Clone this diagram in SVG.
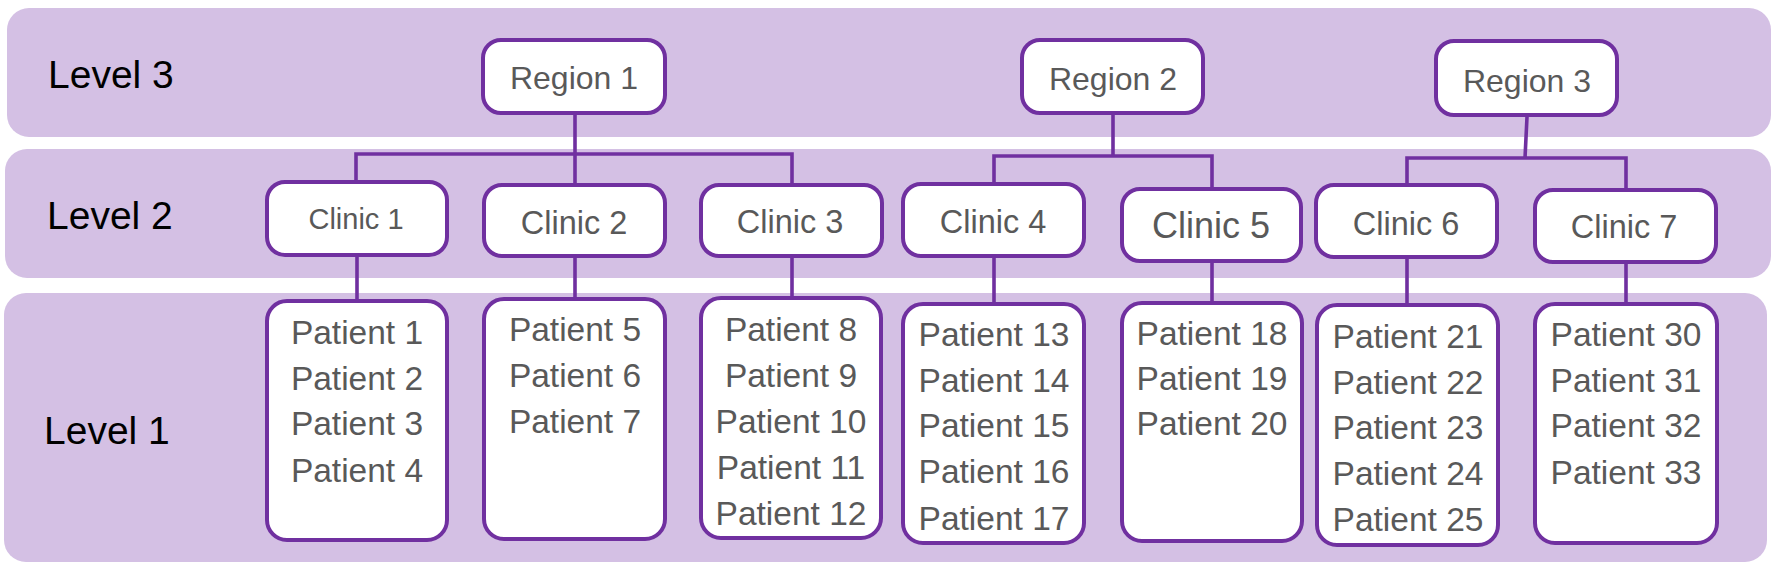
<svg xmlns="http://www.w3.org/2000/svg" width="1778" height="571" viewBox="0 0 1778 571">
<style>
.band{fill:#D4C0E4;}
.lvl{font-family:"Liberation Sans",Arial,sans-serif;font-size:39px;fill:#000;}
.box{fill:#fff;stroke:#7030A0;stroke-width:4;}
.t{font-family:"Liberation Sans",Arial,sans-serif;fill:#595959;text-anchor:middle;}
.r{font-size:32px;}
.c{font-size:32.5px;}
.p{font-size:33.5px;}
.con{fill:none;stroke:#7030A0;stroke-width:3.6;}
</style>
<rect width="1778" height="571" fill="#fff"/>
<g id="bands">
<rect class="band" x="7" y="8" width="1764" height="129" rx="22"/>
<rect class="band" x="5" y="149" width="1766" height="129" rx="22"/>
<rect class="band" x="4" y="293" width="1763" height="269" rx="22"/>
<text class="lvl" x="48" y="88">Level 3</text>
<text class="lvl" x="47" y="229">Level 2</text>
<text class="lvl" x="44" y="444">Level 1</text>
</g>
<g id="connectors">
<path class="con" d="M575 115V154M356 182V154H792V185M575 154V185"/>
<path class="con" d="M1113 115V156M994 184V156H1212V189"/>
<path class="con" d="M1527 117L1525 158M1407 186V158H1626V190"/>
<path class="con" d="M357 257V301M575 258V299M792 258V298M994 258V303M1212 263V302M1407 259V305M1626 264V303"/>
</g>
<g id="region1"><rect class="box" x="483" y="40" width="182" height="73" rx="18"/><text class="t r" x="574" y="89">Region 1</text></g>
<g id="region2"><rect class="box" x="1022" y="40" width="181" height="73" rx="18"/><text class="t r" x="1113" y="90">Region 2</text></g>
<g id="region3"><rect class="box" x="1436" y="41" width="181" height="74" rx="18"/><text class="t r" x="1527" y="92">Region 3</text></g>
<g id="clinic1"><rect class="box" x="267" y="182" width="180" height="73" rx="18"/><text class="t" style="font-size:29px" x="356" y="229">Clinic 1</text></g>
<g id="clinic2"><rect class="box" x="484" y="185" width="181" height="71" rx="18"/><text class="t c" x="574" y="234">Clinic 2</text></g>
<g id="clinic3"><rect class="box" x="701" y="185" width="181" height="71" rx="18"/><text class="t c" x="790" y="233">Clinic 3</text></g>
<g id="clinic4"><rect class="box" x="903" y="184" width="181" height="72" rx="18"/><text class="t c" x="993" y="233">Clinic 4</text></g>
<g id="clinic5"><rect class="box" x="1122" y="189" width="179" height="72" rx="18"/><text class="t" style="font-size:36px" x="1211" y="238">Clinic 5</text></g>
<g id="clinic6"><rect class="box" x="1316" y="185" width="181" height="72" rx="18"/><text class="t c" x="1406" y="235">Clinic 6</text></g>
<g id="clinic7"><rect class="box" x="1535" y="190" width="181" height="72" rx="18"/><text class="t c" x="1624" y="238">Clinic 7</text></g>
<g id="patients1"><rect class="box" x="267" y="301" width="180" height="239" rx="20"/>
<text class="t p" x="357" y="344">Patient 1</text><text class="t p" x="357" y="390">Patient 2</text><text class="t p" x="357" y="435">Patient 3</text><text class="t p" x="357" y="482">Patient 4</text></g>
<g id="patients2"><rect class="box" x="484" y="299" width="181" height="240" rx="20"/>
<text class="t p" x="575" y="341">Patient 5</text><text class="t p" x="575" y="387">Patient 6</text><text class="t p" x="575" y="433">Patient 7</text></g>
<g id="patients3"><rect class="box" x="701" y="298" width="180" height="240" rx="20"/>
<text class="t p" x="791" y="341">Patient 8</text><text class="t p" x="791" y="387">Patient 9</text><text class="t p" x="791" y="433">Patient 10</text><text class="t p" x="791" y="479">Patient 11</text><text class="t p" x="791" y="525">Patient 12</text></g>
<g id="patients4"><rect class="box" x="903" y="304" width="181" height="239" rx="20"/>
<text class="t p" x="994" y="346">Patient 13</text><text class="t p" x="994" y="392">Patient 14</text><text class="t p" x="994" y="437">Patient 15</text><text class="t p" x="994" y="483">Patient 16</text><text class="t p" x="994" y="530">Patient 17</text></g>
<g id="patients5"><rect class="box" x="1122" y="303" width="180" height="238" rx="20"/>
<text class="t p" x="1212" y="345">Patient 18</text><text class="t p" x="1212" y="390">Patient 19</text><text class="t p" x="1212" y="435">Patient 20</text></g>
<g id="patients6"><rect class="box" x="1317" y="305" width="181" height="240" rx="20"/>
<text class="t p" x="1408" y="348">Patient 21</text><text class="t p" x="1408" y="394">Patient 22</text><text class="t p" x="1408" y="439">Patient 23</text><text class="t p" x="1408" y="485">Patient 24</text><text class="t p" x="1408" y="531">Patient 25</text></g>
<g id="patients7"><rect class="box" x="1535" y="304" width="182" height="239" rx="20"/>
<text class="t p" x="1626" y="346">Patient 30</text><text class="t p" x="1626" y="392">Patient 31</text><text class="t p" x="1626" y="437">Patient 32</text><text class="t p" x="1626" y="484">Patient 33</text></g>
</svg>
